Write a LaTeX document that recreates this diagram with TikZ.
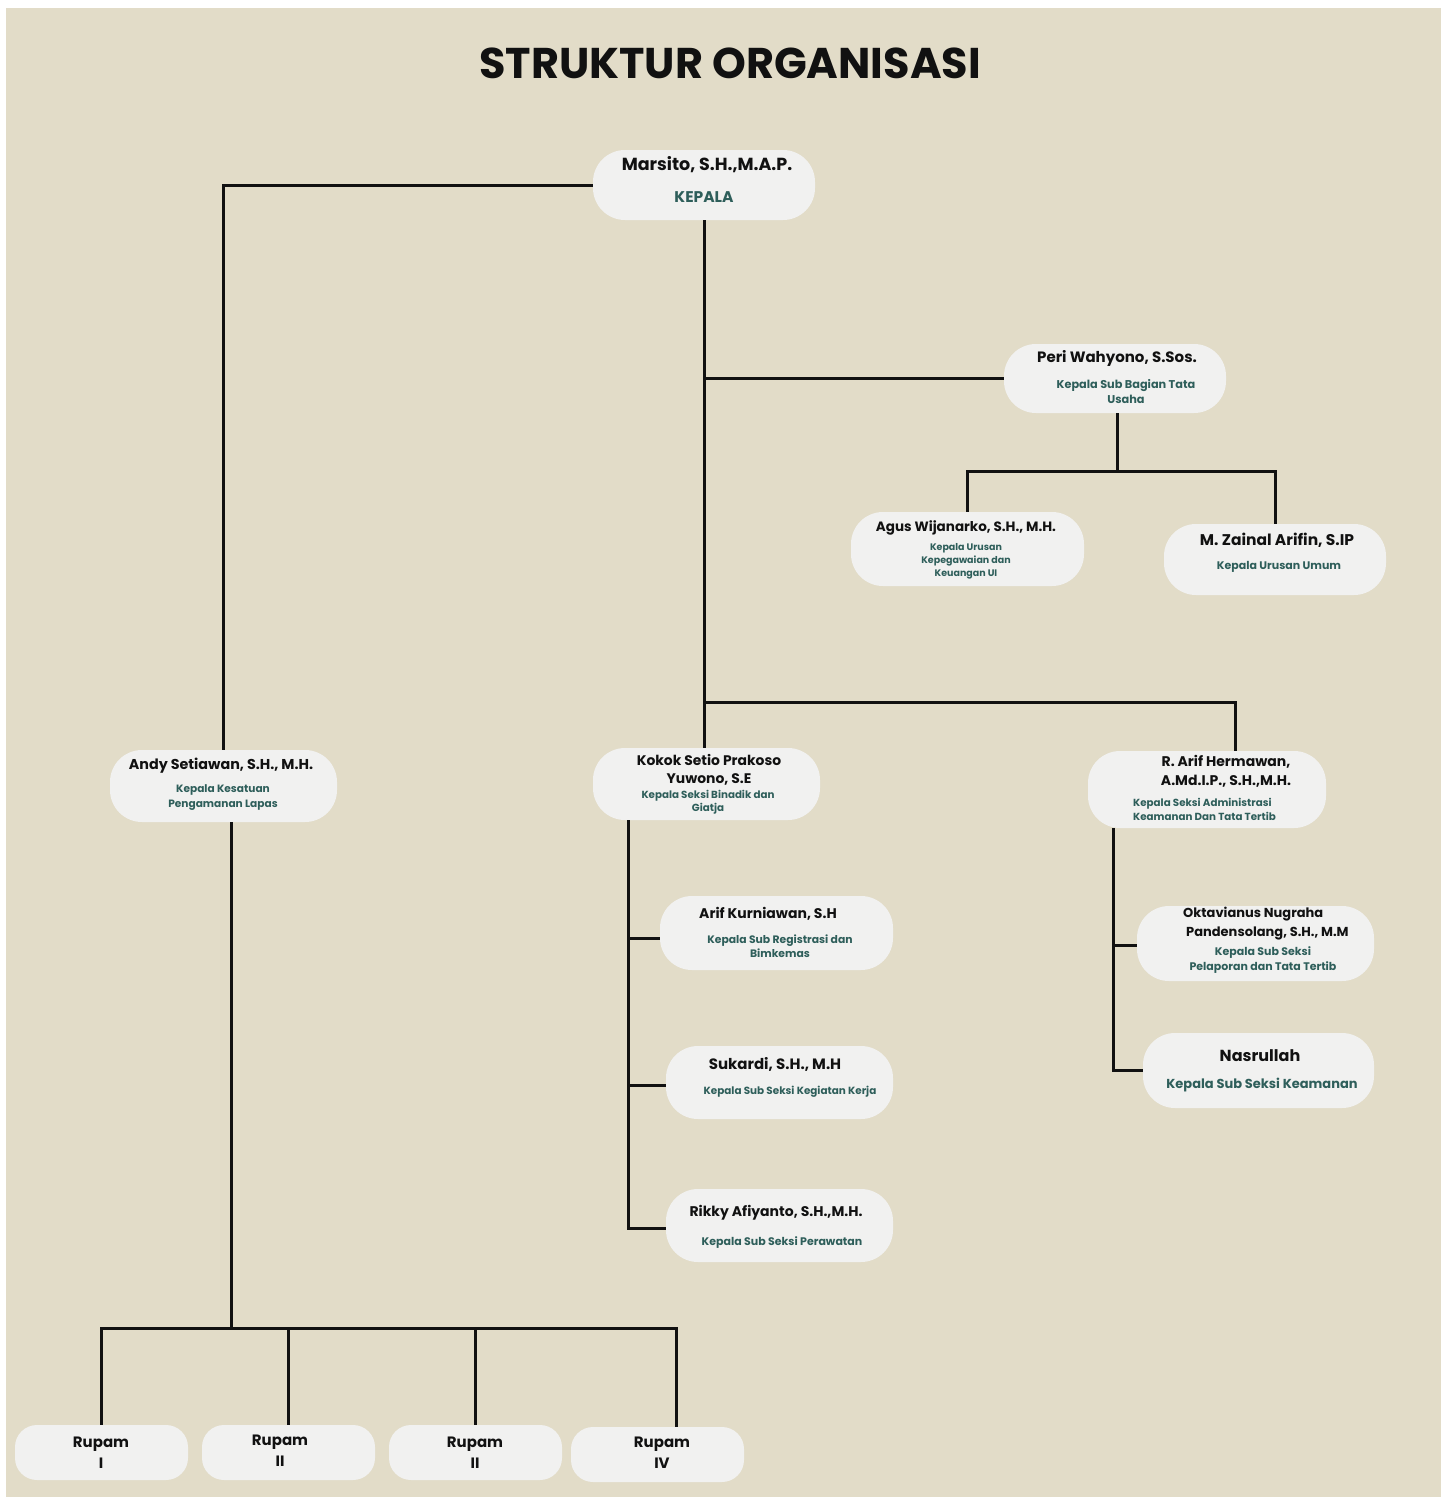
\documentclass[tikz,border=0pt]{standalone}
\usepackage{fontspec}
\setmainfont{Poppins}
\newcommand\fsz[2]{\fontsize{#1}{#2}\selectfont}
\definecolor{bgbeige}{HTML}{E2DCC8}
\definecolor{boxfill}{HTML}{F1F1F0}
\definecolor{tealtext}{HTML}{2E5E5A}
\definecolor{nameblack}{HTML}{111111}
\begin{document}
\begin{tikzpicture}[x=1pt,y=-1pt,
  pill/.style={fill=boxfill, draw=none, rounded corners=32pt, inner sep=0pt},
  rpill/.style={fill=boxfill, draw=none, rounded corners=22pt, inner sep=0pt, minimum width=173pt, minimum height=55pt},
  nm/.style={inner sep=0pt, text=nameblack, align=center},
  rl/.style={inner sep=0pt, text=tealtext, align=center},
  conn/.style={draw=nameblack, line width=3pt}]
\useasboundingbox (0,0) rectangle (1441,1497);
\fill[white] (0,0) rectangle (1441,1497);
\fill[bgbeige] (6,8) rectangle (1441,1497);

\node[nm, font={\bfseries\fsz{43}{48}}] (title) at (730,63) {STRUKTUR ORGANISASI};

% boxes
\node[pill, minimum width=222pt, minimum height=70pt] (marsito) at (704,185) {};
\node[pill, minimum width=222pt, minimum height=69pt] (peri) at (1115,378.5) {};
\node[pill, minimum width=233pt, minimum height=74pt] (agus) at (967.5,549) {};
\node[pill, minimum width=222pt, minimum height=71pt] (zainal) at (1275,559.5) {};
\node[pill, minimum width=227pt, minimum height=72pt] (andy) at (223.5,786) {};
\node[pill, minimum width=227pt, minimum height=72pt] (kokok) at (706.5,784) {};
\node[pill, minimum width=238pt, minimum height=77pt] (rarif) at (1207,789.5) {};
\node[pill, minimum width=233pt, minimum height=74pt] (arifk) at (776.5,933) {};
\node[pill, minimum width=227pt, minimum height=73pt] (sukardi) at (779.5,1082.5) {};
\node[pill, minimum width=227pt, minimum height=73pt] (rikky) at (779.5,1225.5) {};
\node[pill, minimum width=237pt, minimum height=75pt] (okt) at (1255.5,943.5) {};
\node[pill, minimum width=231pt, minimum height=75pt] (nas) at (1258.5,1070.5) {};
\node[rpill] (rupam1) at (101.5,1452.5) {};
\node[rpill] (rupam2) at (288.5,1452.5) {};
\node[rpill] (rupam3) at (475.5,1452.5) {};
\node[rpill] (rupam4) at (657.5,1454.5) {};

% texts
\node[nm, font={\bfseries\fsz{17.5}{20}}] (marsito-n) at (707,165) {Marsito, S.H.,M.A.P.};
\node[rl, font={\bfseries\fsz{15.5}{18}}] (marsito-r) at (704,197) {KEPALA};

\node[nm, font={\bfseries\fsz{15}{18}}] (peri-n) at (1117,358) {Peri Wahyono, S.Sos.};
\node[rl, font={\bfseries\fsz{11.3}{15}}] (peri-r) at (1126,392) {Kepala Sub Bagian Tata\\Usaha};

\node[nm, font={\bfseries\fsz{13.5}{16}}] (agus-n) at (966,528) {Agus Wijanarko, S.H., M.H.};
\node[rl, font={\bfseries\fsz{9.5}{13}}] (agus-r) at (966,561) {Kepala Urusan\\Kepegawaian dan\\Keuangan UI};

\node[nm, font={\bfseries\fsz{15.5}{18}}] (zainal-n) at (1277,540) {M. Zainal Arifin, S.IP};
\node[rl, font={\bfseries\fsz{11}{13}}] (zainal-r) at (1279,567) {Kepala Urusan Umum};

\node[nm, font={\bfseries\fsz{14.3}{17}}] (andy-n) at (221,766) {Andy Setiawan, S.H., M.H.};
\node[rl, font={\bfseries\fsz{10.6}{15}}] (andy-r) at (223,797.5) {Kepala Kesatuan\\Pengamanan Lapas};

\node[nm, font={\bfseries\fsz{13.9}{18}}] (kokok-n) at (709,770) {Kokok Setio Prakoso\\Yuwono, S.E};
\node[rl, font={\bfseries\fsz{10.3}{13}}] (kokok-r) at (708,802.5) {Kepala Seksi Binadik dan\\Giatja};

\node[nm, font={\bfseries\fsz{14}{19}}] (rarif-n) at (1226,771.5) {R. Arif Hermawan,\\A.Md.I.P., S.H.,M.H.};
\node[rl, font={\bfseries\fsz{10.3}{14}}, align=left, anchor=west] (rarif-r) at (1133,809) {Kepala Seksi Administrasi\\Keamanan Dan Tata Tertib};

\node[nm, font={\bfseries\fsz{14}{17}}] (arifk-n) at (768,914) {Arif Kurniawan, S.H};
\node[rl, font={\bfseries\fsz{10.8}{14}}] (arifk-r) at (780,946) {Kepala Sub Registrasi dan\\Bimkemas};

\node[nm, font={\bfseries\fsz{15}{18}}] (sukardi-n) at (775,1064) {Sukardi, S.H., M.H};
\node[rl, font={\bfseries\fsz{10.4}{13}}] (sukardi-r) at (790,1092) {Kepala Sub Seksi Kegiatan Kerja};

\node[nm, font={\bfseries\fsz{14}{17}}] (rikky-n) at (776,1213) {Rikky Afiyanto, S.H.,M.H.};
\node[rl, font={\bfseries\fsz{11}{13}}] (rikky-r) at (782,1243) {Kepala Sub Seksi Perawatan};

\node[nm, font={\bfseries\fsz{13}{19}}, align=left, anchor=west] (okt-n) at (1183,923.5) {Oktavianus Nugraha\\\hspace*{3pt}Pandensolang, S.H., M.M};
\node[rl, font={\bfseries\fsz{11}{15}}] (okt-r) at (1263,960) {Kepala Sub Seksi\\Pelaporan dan Tata Tertib};

\node[nm, font={\bfseries\fsz{16}{19}}] (nas-n) at (1260,1056) {Nasrullah};
\node[rl, font={\bfseries\fsz{13}{16}}] (nas-r) at (1262,1085) {Kepala Sub Seksi Keamanan};

\node[nm, font={\bfseries\fsz{15}{21}}] (rupam1-t) at (101,1453) {Rupam\\I};
\node[nm, font={\bfseries\fsz{15}{21}}] (rupam2-t) at (280,1451) {Rupam\\II};
\node[nm, font={\bfseries\fsz{15}{21}}] (rupam3-t) at (475,1453) {Rupam\\II};
\node[nm, font={\bfseries\fsz{15}{21}}] (rupam4-t) at (662,1453) {Rupam\\IV};

% connectors
\draw[conn] (marsito.west) -| (andy.north);
\draw[conn] (marsito.south) -- (marsito.south |- kokok.north);
\coordinate (j1) at (marsito.south |- peri.west);
\draw[conn] (j1) -- (peri.west);
\coordinate (j2) at (1117,471);
\draw[conn] (peri.south -| j2) -- (j2);
\draw[conn] (agus.north) |- (j2) -| (zainal.north);
\coordinate (j3a) at (0,702);
\coordinate (j3) at (marsito.south |- j3a);
\coordinate (rtop) at ([xshift=28pt]rarif.north);
\draw[conn] (j3) -| (rtop);

\coordinate (k0) at ([xshift=-78.5pt]kokok.south);
\draw[conn] (k0) |- ([yshift=-5pt]arifk.west);
\draw[conn] (k0) |- ([yshift=-2.5pt]sukardi.west);
\draw[conn] (k0) |- ([yshift=-2.5pt]rikky.west);

\coordinate (r0) at ([xshift=-94pt]rarif.south);
\draw[conn] (r0) |- ([yshift=-1.5pt]okt.west);
\draw[conn] (r0) |- (nas.west);

\coordinate (a0) at ([xshift=8pt]andy.south);
\coordinate (a1y) at (0,1328);
\coordinate (a1) at (a0 |- a1y);
\coordinate (r4top) at ([xshift=18.5pt]rupam4.north);
\draw[conn] (a0) -- (a1);
\draw[conn] (rupam1.north) |- (r4top |- a1y) -- (r4top);
\draw[conn] (rupam2.north) -- (rupam2.north |- a1y);
\draw[conn] (rupam3.north) -- (rupam3.north |- a1y);
\end{tikzpicture}
\end{document}
